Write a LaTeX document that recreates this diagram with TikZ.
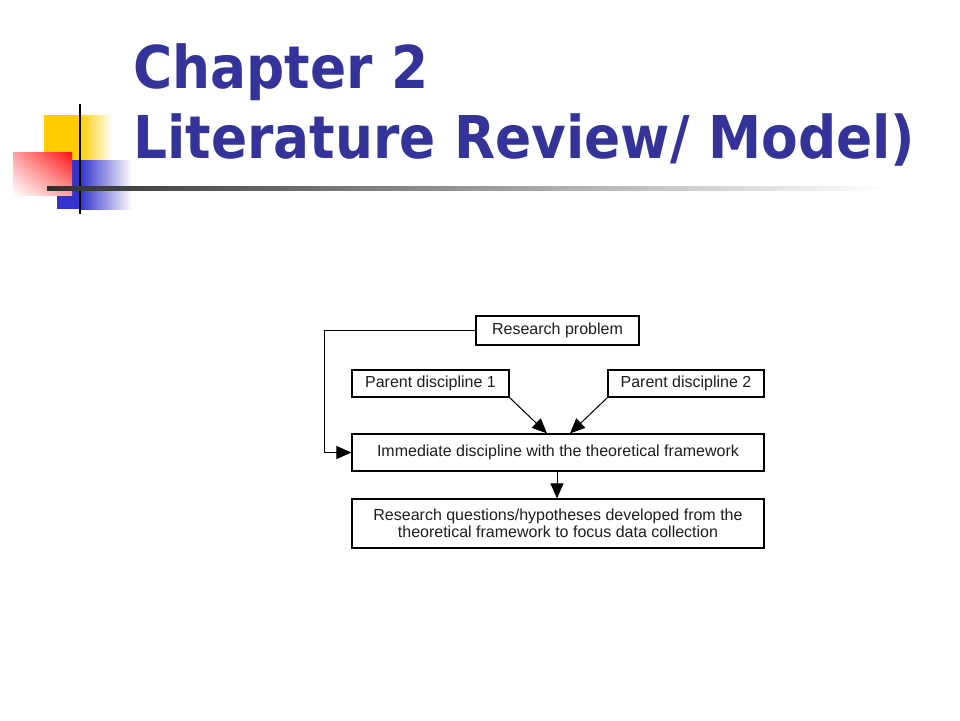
\documentclass[tikz,border=0pt]{standalone}
\usepackage{fontspec}
\setmainfont{Liberation Sans}
\newfontfamily\titlefont[FakeStretch=0.905]{DejaVu Sans}
\usetikzlibrary{arrows.meta,shadings}
\definecolor{titleblue}{HTML}{333399}
\definecolor{logoyellow}{HTML}{FFCC00}
\definecolor{logoblue}{HTML}{3333CC}
\definecolor{logored}{HTML}{FF1010}
\definecolor{ruledark}{HTML}{303030}
\definecolor{rulemid}{HTML}{5C5C5C}
\definecolor{boxtext}{HTML}{1E1E1E}
\pgfdeclarehorizontalshading{rulesh}{100bp}{color(0bp)=(ruledark); color(25bp)=(ruledark); color(36bp)=(rulemid); color(75bp)=(white); color(100bp)=(white)}
\tikzset{
  boxnode/.style={draw=black, line width=1.2pt, inner sep=0pt, text=boxtext,
    font=\fontsize{16}{17.5}\selectfont, align=center},
  conn/.style={draw=black, line width=1pt, -{Triangle[length=15pt,width=13pt]}},
  titletext/.style={anchor=base west, inner sep=0pt, text=titleblue,
    font=\titlefont\bfseries\fontsize{59}{70}\selectfont}
}
\begin{document}
\begin{tikzpicture}[x=1pt,y=-1pt]
\useasboundingbox (0,0) rectangle (960,720);
\fill[white] (0,0) rectangle (960,720);
% logo
\fill[logoyellow] (44,115) rectangle (80,160);
\shade[left color=logoyellow, right color=white] (80,115) rectangle (112,160);
\fill[logoblue] (57,160) rectangle (80,209);
\shade[left color=logoblue, right color=white] (80,160) rectangle (132,209);
\shade[upper right=logored, upper left=logored!40!white, lower right=logored!40!white, lower left=white] (13,152) rectangle (72,195);
\draw[black, line width=2.5pt] (80,104) -- (80,214);
% rule
\shade[shading=rulesh] (47,186.5) rectangle (885,190);
% title
\node[titletext] (t1) at (133,88) {Chapter 2};
\node[titletext] (t2) at (133,158) {Literature Review/ Model)};
% diagram
\node[boxnode, minimum width=163pt, minimum height=29pt] (rp) at (557.5,330.5) {Research problem};
\node[boxnode, minimum width=157pt, minimum height=27pt] (p1) at (430.5,383.5) {Parent discipline 1};
\node[boxnode, minimum width=156pt, minimum height=27pt] (p2) at (686,383.5) {Parent discipline 2};
\node[boxnode, minimum width=412pt, minimum height=37pt] (imm) at (558,452.5) {Immediate discipline with the theoretical framework};
\node[boxnode, minimum width=412pt, minimum height=49pt] (rq) at (558,523.5) {Research questions/hypotheses developed from the\\theoretical framework to focus data collection};
\coordinate (corner) at (324,330.5);
\draw[conn] (rp.west) -- (corner) |- (imm.west);
\draw[conn] (p1.south east) -- ([xshift=-11pt]imm.north);
\draw[conn] (p2.south west) -- ([xshift=12pt]imm.north);
\draw[conn] ([xshift=-1pt]imm.south) -- ([xshift=-1pt]rq.north);
\end{tikzpicture}
\end{document}
